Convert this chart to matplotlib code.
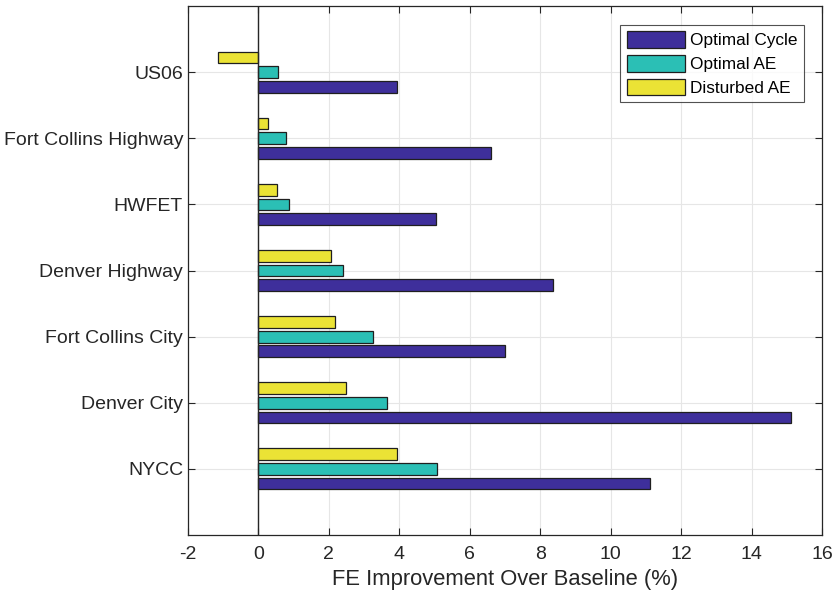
import numpy as np
import matplotlib
matplotlib.use("Agg")
import matplotlib.pyplot as plt

plt.rcParams['font.family'] = ['Liberation Sans', 'DejaVu Sans']

cycles = ["NYCC", "Denver City", "Fort Collins City", "Denver Highway",
          "HWFET", "Fort Collins Highway", "US06"]
optimal_cycle = [11.12, 15.13, 7.00, 8.37, 5.04, 6.61, 3.93]
optimal_ae = [5.07, 3.65, 3.24, 2.39, 0.86, 0.77, 0.55]
disturbed_ae = [3.93, 2.48, 2.17, 2.06, 0.52, 0.28, -1.15]
series_names = ["Optimal Cycle", "Optimal AE", "Disturbed AE"]
series_colors = ["#3E2F9B", "#2BBFB5", "#EBE335"]
xticks = [-2, 0, 2, 4, 6, 8, 10, 12, 14, 16]

fig = plt.figure(figsize=(8.36, 5.99), dpi=100)
ax = fig.add_axes([0.2249, 0.1068, 0.7584, 0.8831])

y = np.arange(1, len(cycles) + 1)
step = 0.222
height = 0.178
series = [optimal_cycle, optimal_ae, disturbed_ae]
for i, (vals, name, col) in enumerate(zip(series, series_names, series_colors)):
    ax.barh(y + (i - 1) * step, vals, height=height, color=col,
            edgecolor="#1f1f1f", linewidth=0.9, label=name, zorder=3)

ax.axvline(0, color="#262626", linewidth=1.0, zorder=4)

ax.set_xlim(-2, 16)
ax.set_ylim(0, 8)
ax.set_xticks(xticks)
ax.set_xticklabels([str(t) for t in xticks])
ax.set_yticks(y)
ax.set_yticklabels(cycles)

ax.grid(True, color="#e6e6e6", linewidth=0.8, zorder=0)
ax.set_axisbelow(True)
ax.tick_params(direction="in", length=5, width=0.8, colors="#262626",
               top=True, right=True, labelsize=14)
ax.tick_params(axis="y", pad=3.6)
ax.tick_params(axis="x", pad=8)
for side in ax.spines.values():
    side.set_color("#262626")
    side.set_linewidth(0.9)

ax.set_xlabel("FE Improvement Over Baseline (%)", fontsize=15.8, color="#262626", labelpad=4)

leg = ax.legend(loc="upper right", bbox_to_anchor=(0.9716, 0.964), fontsize=12.4,
                frameon=True, fancybox=False, edgecolor="#262626",
                handlelength=3.4, handleheight=1.08, handletextpad=0.3,
                borderpad=0.36, labelspacing=0.4, borderaxespad=0)
leg.get_frame().set_linewidth(0.8)

fig.savefig("out.png", dpi=100)
